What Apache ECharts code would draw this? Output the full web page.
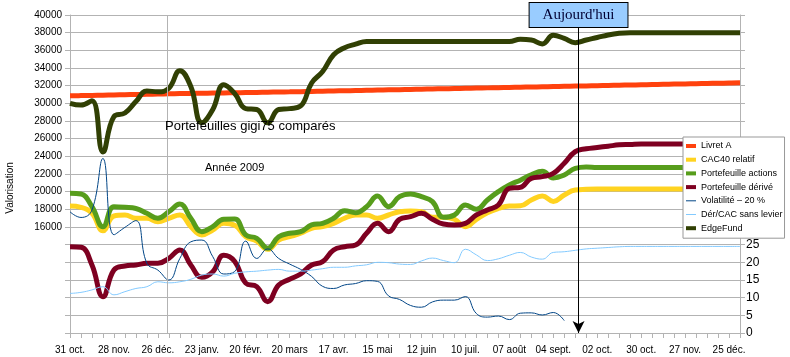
<!DOCTYPE html>
<html><head><meta charset="utf-8">
<script src="https://cdn.jsdelivr.net/npm/echarts@6/dist/echarts.min.js"></script>
<style>html,body{margin:0;padding:0;background:#fff}#c{width:790px;height:357px}</style>
</head><body><div id="c"></div><script>
const tickLabels = ['31 oct.','28 nov.','26 déc.','23 janv.','20 févr.','20 mars','17 avr.','15 mai','12 juin','10 juil.','07 août','04 sept.','02 oct.','30 oct.','27 nov.','25 déc.'];
const seriesNames = ['Livret A','CAC40 relatif','Portefeuille actions','Portefeuille dérivé','Volatilité – 20 %','Dér/CAC sans levier','EdgeFund'];
const livretA = [30850,30875,30900,30925,30950,30975,31000,31025,31050,31075,31100,31120,31140,31160,31180,31200,31220,31240,31260,31280,31300,31325,31350,31375,31400,31425,31450,31475,31500,31525,31550,31575,31600,31625,31650,31675,31700,31725,31750,31775,31800,31825,31850,31875,31900,31925,31950,31975,32000,32025,32050,32075,32100,32125,32150,32175,32200,32225,32250,32275,32300,32325];
const cac40 = [18380,18230,17550,15580,17250,17360,16990,16990,16600,16990,17360,16040,15100,15660,16420,16200,14900,14400,13470,14530,14900,15290,15850,16040,16420,16990,17360,17360,16990,17360,17730,17810,17730,17100,17100,16870,16040,16870,17620,18100,18380,18400,19060,19510,18900,19620,20190,20270,20300,20300,20300,20300,20300,20300,20300,20300,20300,20300,20300,20300,20300,20300];
const actions = [19810,19740,18300,16040,18300,18230,18100,17550,16990,17730,18600,16990,15470,16040,16870,16900,15100,14720,13590,14900,15290,15470,16230,16420,16990,17850,17620,18300,19510,18300,19430,19740,19430,18870,17100,17360,18490,18000,19060,20000,20760,21300,21900,22300,21550,21890,22640,22800,22750,22750,22750,22750,22750,22750,22750,22750,22750,22750,22750,22750,22750,22750];
const derive = [13770,13700,11700,8110,11130,11590,11700,11890,11890,12460,13400,11700,10300,10940,12800,12100,9640,9250,7550,9440,10080,10680,11700,12080,13400,13770,13960,15290,16420,15470,16870,17170,17550,16870,16340,16230,16420,17360,17930,18490,20380,20490,21510,21700,22070,23210,24530,24850,25000,25150,25300,25350,25400,25400,25400,25400,25400,25400,25400,25400,25400,25400];
const volatilite = [34.3,32.7,34.8,49.4,27.8,29.9,31.8,19.7,17.8,15.0,21.1,25.8,26.3,21.6,16.7,17.4,26.0,21.1,23.8,21.1,19.5,18.0,16.0,13.2,12.6,13.6,14.0,14.8,14.6,10.5,9.5,7.8,7.3,8.8,9.3,9.3,10.3,5.5,4.5,4.8,3.8,5.6,5.7,5.1,5.8,3.5];
const derCac = [11.2,11.5,12.2,13.1,10.8,11.7,12.6,13.1,14.5,14.2,14.5,15.2,16.4,16.7,16.1,16.9,17.3,17.5,17.8,18.0,17.5,17.5,17.8,18.2,18.6,18.6,19.0,19.3,20.0,19.9,19.5,19.4,20.4,21.2,20.5,19.9,23.7,22.1,20.5,21.0,22.0,22.8,21.5,20.9,22.8,23.0,23.4,23.8,24.0,24.2,24.4,24.5,24.5,24.5,24.5,24.5,24.5,24.5,24.5,24.5,24.5,24.5];
const edgeFund = [30000,29800,30300,24500,28500,28900,30200,31400,31300,31700,33700,31900,27800,29300,32100,31100,29400,29300,27800,29300,29400,29700,32300,33600,35500,36300,36700,37000,37000,37000,37000,37000,37000,37000,37000,37000,37000,37000,37000,37000,37000,37250,37170,36720,37700,37350,36870,37170,37450,37740,37930,38000,38000,38000,38000,38000,38000,38000,38000,38000,38000,38000];
const todayWeek = 46.3;
const yearStartWeek = 8.86;
const lastWeek = 61;

const FONT = '"Liberation Sans", Arial, sans-serif';
const colors = ['#ff420e','#ffd320','#579d1c','#7e0021','#004586','#83caff','#314004'];
const pts = arr => arr.map((v, i) => [i, v]);
const GRID = '#b3b3b3';

function lineSeries(idx, data, yIdx, width, extra) {
  return Object.assign({
    name: seriesNames[idx], type: 'line', yAxisIndex: yIdx, data: pts(data),
    smooth: 0.45, showSymbol: false, symbol: 'none',
    lineStyle: { color: colors[idx], width: width }, itemStyle: { color: colors[idx] },
    emphasis: { disabled: true }
  }, extra || {});
}

const chart = echarts.init(document.getElementById('c'), null, { renderer: 'canvas' });
chart.setOption({
  animation: false,
  color: colors,
  grid: { left: 70, right: 50, top: 15, bottom: 24 },
  title: [
    { text: 'Portefeuilles gigi75 comparés', left: 165, top: 120, padding: 0,
      textStyle: { fontSize: 13, fontWeight: 'normal', color: '#000', fontFamily: FONT } },
    { text: 'Année 2009', left: 205, top: 162, padding: 0,
      textStyle: { fontSize: 11, fontWeight: 'normal', color: '#000', fontFamily: FONT } }
  ],
  graphic: [{
    type: 'text', x: 10, y: 188, rotation: Math.PI / 2,
    style: { text: 'Valorisation', textAlign: 'center', textVerticalAlign: 'middle',
      font: '10px "Liberation Sans", Arial, sans-serif', fill: '#000' }
  }],
  legend: {
    orient: 'vertical', left: 683, top: 137,
    backgroundColor: '#fff', borderColor: '#999', borderWidth: 1, borderRadius: 0,
    padding: [4, 2, 5, 3], itemWidth: 10, itemHeight: 4, itemGap: 3.7,
    selectedMode: false,
    textStyle: { fontSize: 9, lineHeight: 10, color: '#000', fontFamily: FONT },
    data: seriesNames.map((n, i) => ({ name: n, icon: (i === 4 || i === 5) ? 'path://M0,0H10V1H0Z' : 'rect' }))
  },
  xAxis: {
    type: 'value', min: 0, max: lastWeek, interval: 1,
    axisLine: { show: true, onZero: false, lineStyle: { color: GRID } },
    axisTick: { show: true, length: 5, lineStyle: { color: GRID } },
    splitLine: { show: false },
    axisLabel: { fontSize: 10, color: '#000', fontFamily: FONT, margin: 12,
      formatter: v => (v % 4 === 0 && tickLabels[v / 4]) ? tickLabels[v / 4] : '' }
  },
  yAxis: [
    { type: 'value', min: 4000, max: 40000, interval: 2000, position: 'left',
      axisLine: { show: true, lineStyle: { color: GRID } },
      axisTick: { show: true, length: 5, lineStyle: { color: GRID } },
      splitLine: { show: true, lineStyle: { color: GRID, width: 1 } },
      axisLabel: { fontSize: 10, color: '#000', fontFamily: FONT, margin: 8,
        formatter: v => v >= 16000 ? String(v) : '' } },
    { type: 'value', min: 0, max: 90, interval: 5, position: 'right',
      axisLine: { show: true, lineStyle: { color: GRID } },
      axisTick: { show: true, length: 5, lineStyle: { color: GRID } },
      splitLine: { show: false },
      axisLabel: { fontSize: 12, color: '#000', fontFamily: FONT, margin: 6,
        formatter: v => v <= 25 ? String(v) : '' } }
  ],
  series: [
    lineSeries(0, livretA, 0, 5, {
      markLine: { silent: true, symbol: ['none', 'none'], animation: false,
        lineStyle: { color: GRID, width: 1, type: 'solid' }, label: { show: false },
        data: [{ xAxis: yearStartWeek }] }
    }),
    lineSeries(1, cac40, 0, 5),
    lineSeries(2, actions, 0, 5),
    lineSeries(3, derive, 0, 5),
    lineSeries(4, volatilite, 1, 1),
    lineSeries(5, derCac, 1, 1),
    lineSeries(6, edgeFund, 0, 5, {
      markLine: { silent: true, symbol: ['arrow', 'none'], symbolSize: [9, 12], animation: false,
        lineStyle: { color: '#000', width: 1, type: 'solid' },
        label: { show: true, position: 'end', formatter: "Aujourd'hui",
          fontFamily: '"Liberation Serif", "Times New Roman", serif', fontSize: 15, color: '#000033',
          backgroundColor: '#99ccff', borderColor: '#000', borderWidth: 1,
          padding: [5, 13, 4, 13], distance: -12 },
        data: [{ xAxis: todayWeek }] }
    })
  ]
});
</script></body></html>
